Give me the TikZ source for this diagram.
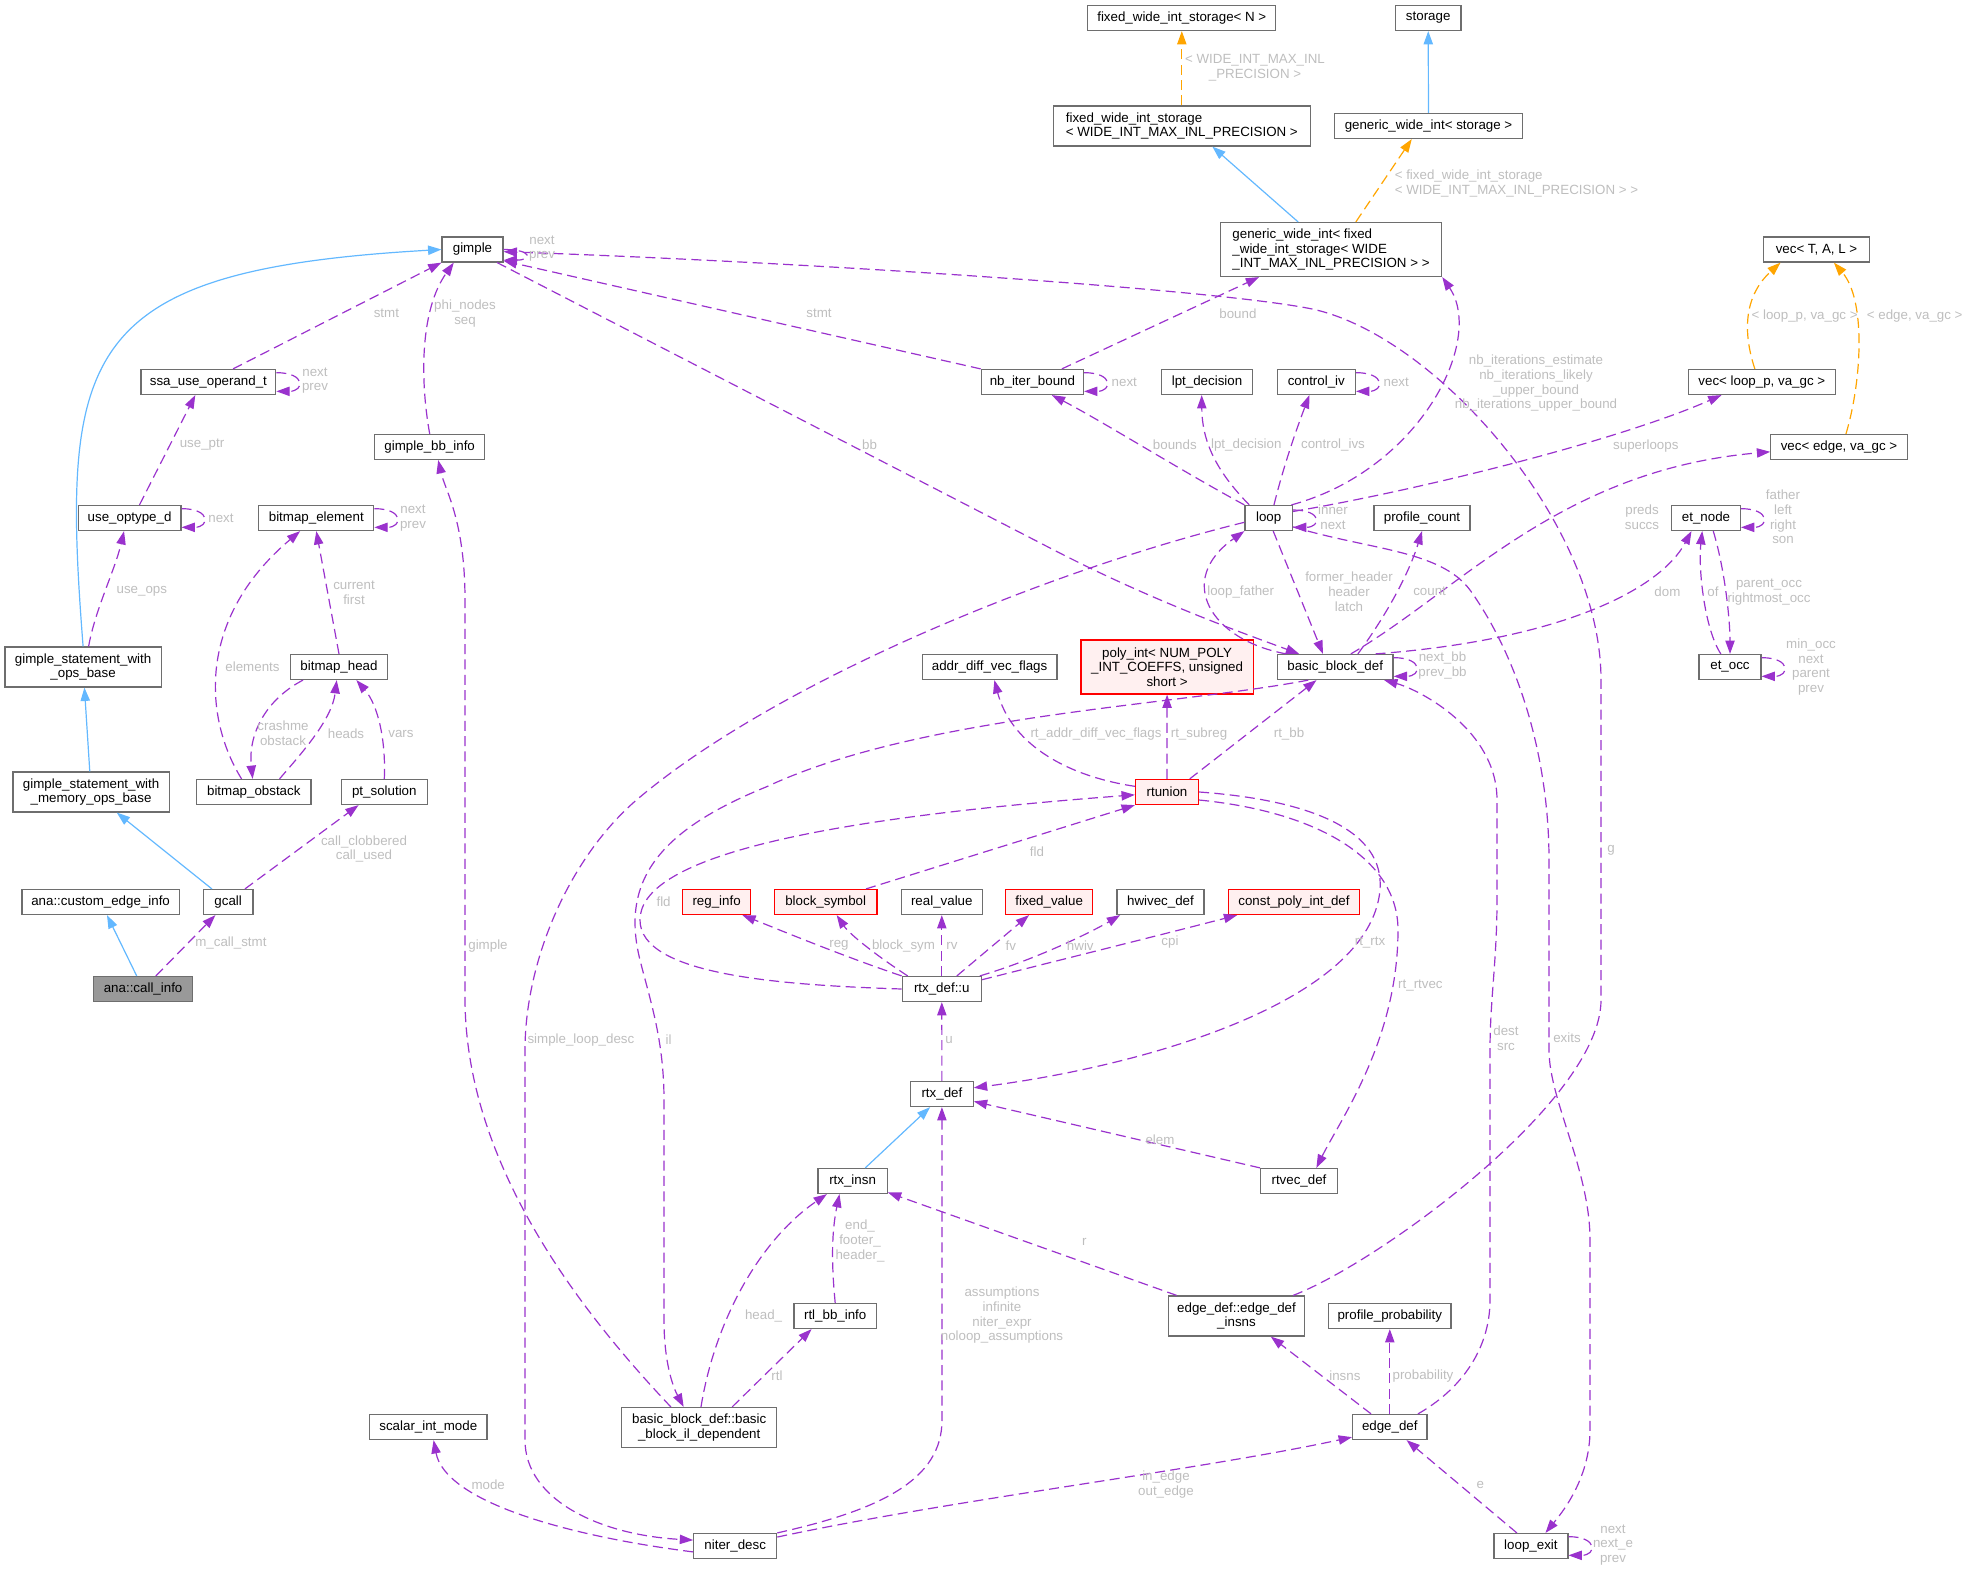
\documentclass[tikz,border=0pt]{standalone}
\usepackage{fontspec}
\setmainfont{Liberation Sans}
\usetikzlibrary{arrows.meta}

\definecolor{edgepurple}{HTML}{9A32CD}
\definecolor{inhblue}{HTML}{63B8FF}
\definecolor{tplorange}{HTML}{FFA500}
\definecolor{lblgrey}{HTML}{BEBEBE}
\definecolor{boxgrey}{HTML}{6E6E6E}
\definecolor{redfill}{HTML}{FFF0F0}
\definecolor{focusfill}{HTML}{999999}

\tikzset{
  cls/.style={draw=boxgrey, fill=white, line width=0.9pt, inner xsep=2pt, inner ysep=1pt,
    minimum height=18.75pt, font=\fontsize{10}{11}\selectfont},
  cls2/.style={cls, minimum height=30pt, align=center},
  undoc/.style={cls, draw=red, fill=redfill},
  focus/.style={cls, fill=focusfill},
  uses/.style={draw=edgepurple, line width=0.9pt, dash pattern=on 7.5pt off 4pt,
    -{Triangle[length=10pt,width=7pt]}},
  isa/.style={draw=inhblue, line width=0.9pt, -{Triangle[length=10pt,width=7pt]}},
  tpl/.style={draw=tplorange, line width=0.9pt, dash pattern=on 7.5pt off 4pt,
    -{Triangle[length=10pt,width=7pt]}},
  lbl/.style={text=lblgrey, inner sep=0pt, align=center, font=\fontsize{10}{11}\selectfont},
}

% member pointing back to its own class
\newcommand{\ownref}[3]{\draw[uses] ([yshift=#2]#1.east) .. controls +(30,0) and +(28,0) .. ([yshift=#3]#1.east);}

\begin{document}
\begin{tikzpicture}[x=0.75pt,y=0.75pt,yscale=-1,xscale=1]
\useasboundingbox (0,0) rectangle (1967,1577);

%Classes
\node[cls, minimum width=141pt] (fwisN) at (1181.8,18) {fixed\_wide\_int\_storage< N >};
\node[cls, minimum width=49.2pt] (storage) at (1428.2,18) {storage};
\node[cls2, align=left, minimum width=192.75pt] (fwisW) at (1181.8,126) {fixed\_wide\_int\_storage\\< WIDE\_INT\_MAX\_INL\_PRECISION >};
\node[cls, minimum width=140.5pt] (gwiS) at (1428.5,126) {generic\_wide\_int< storage >};
\node[cls, minimum width=45.75pt] (gimple) at (472.5,249.5) {gimple};
\node[cls, align=left, minimum height=40.5pt, minimum width=166pt] (gwiF) at (1331,249.5) {generic\_wide\_int< fixed\\\_wide\_int\_storage< WIDE\\\_INT\_MAX\_INL\_PRECISION > >};
\node[cls, minimum width=79.2pt] (vecTAL) at (1816.5,249.5) {vec< T, A, L >};
\node[cls, minimum width=101pt] (ssa) at (208.4,382) {ssa\_use\_operand\_t};
\node[cls, minimum width=76.7pt] (nbib) at (1032.4,382) {nb\_iter\_bound};
\node[cls, minimum width=68.5pt] (lpt) at (1207,382) {lpt\_decision};
\node[cls, minimum width=58.7pt] (civ) at (1316.3,382) {control\_iv};
\node[cls, minimum width=110.2pt] (vecLoop) at (1761.8,382) {vec< loop\_p, va\_gc >};
\node[cls, minimum width=82.5pt] (gbbi) at (429.7,447) {gimple\_bb\_info};
\node[cls, minimum width=102.3pt] (vecEdge) at (1839,447) {vec< edge, va\_gc >};
\node[cls, minimum width=77pt] (uopt) at (129.6,518) {use\_optype\_d};
\node[cls, minimum width=86.25pt] (bmel) at (316.3,518) {bitmap\_element};
\node[cls, minimum width=35.6pt] (loop) at (1268.7,518) {loop};
\node[cls, minimum width=72pt] (pcount) at (1422,518) {profile\_count};
\node[cls, minimum width=51.5pt] (etnode) at (1706,518) {et\_node};
\node[cls2, minimum width=117.2pt] (opsb) at (83.1,667) {gimple\_statement\_with\\\_ops\_base};
\node[cls, minimum width=72.3pt] (bmhead) at (339,667) {bitmap\_head};
\node[cls, minimum width=101pt] (advf) at (989.6,667) {addr\_diff\_vec\_flags};
\node[undoc, align=center, minimum height=40.5pt, minimum width=129.2pt] (polyint) at (1167.1,667) {poly\_int< NUM\_POLY\\\_INT\_COEFFS, unsigned\\short >};
\node[cls, minimum width=86.8pt] (bbd) at (1335.2,667) {basic\_block\_def};
\node[cls, minimum width=46.4pt] (etocc) at (1730,667) {et\_occ};
\node[cls2, minimum width=117.2pt] (memb) at (91.1,792) {gimple\_statement\_with\\\_memory\_ops\_base};
\node[cls, minimum width=85.9pt] (bmobs) at (253.8,792) {bitmap\_obstack};
\node[cls, minimum width=64.4pt] (ptsol) at (384.3,792) {pt\_solution};
\node[undoc, minimum width=47.3pt] (rtunion) at (1167,792) {rtunion};
\node[cls, minimum width=118pt] (cei) at (100.6,902) {ana::custom\_edge\_info};
\node[cls, minimum width=37.3pt] (gcall) at (228.2,902) {gcall};
\node[undoc, minimum width=51.2pt] (reginfo) at (716.6,902) {reg\_info};
\node[undoc, minimum width=77pt] (blocksym) at (825.7,902) {block\_symbol};
\node[cls, minimum width=60.6pt] (realv) at (941.8,902) {real\_value};
\node[undoc, minimum width=65pt] (fixedv) at (1049.2,902) {fixed\_value};
\node[cls, minimum width=65.3pt] (hwivec) at (1160.5,902) {hwivec\_def};
\node[undoc, minimum width=98.3pt] (cpi) at (1294,902) {const\_poly\_int\_def};
\node[focus, minimum width=74.5pt] (callinfo) at (143.1,989) {ana::call\_info};
\node[cls, minimum width=59.4pt] (rtxu) at (941.8,989) {rtx\_def::u};
\node[cls, minimum width=47pt] (rtxdef) at (941.9,1094) {rtx\_def};
\node[cls, minimum width=52pt] (rtxinsn) at (852.6,1181) {rtx\_insn};
\node[cls, minimum width=57.5pt] (rtvec) at (1299,1181) {rtvec\_def};
\node[cls, minimum width=61.9pt] (rtlbb) at (835.2,1316) {rtl\_bb\_info};
\node[cls2, minimum width=102pt] (edi) at (1236.5,1316) {edge\_def::edge\_def\\\_insns};
\node[cls, minimum width=91.9pt] (pprob) at (1389.8,1316) {profile\_probability};
\node[cls, minimum width=88pt] (scalar) at (428.3,1427) {scalar\_int\_mode};
\node[cls2, minimum width=116.25pt] (bbil) at (699.2,1427.5) {basic\_block\_def::basic\\\_block\_il\_dependent};
\node[cls, minimum width=55.9pt] (edgedef) at (1389.8,1427) {edge\_def};
\node[cls, minimum width=62.2pt] (niter) at (735.2,1546) {niter\_desc};
\node[cls, minimum width=55.5pt] (loopexit) at (1530.9,1546) {loop\_exit};

%Inheritance
\draw[isa] (opsb.north) .. controls (60,350) and (80,270) .. (gimple.west);
\draw[isa] (memb) -- (opsb);
\draw[isa] (gcall) -- (memb);
\draw[isa] (callinfo) -- (cei);
\draw[isa] (gwiS) -- (storage);
\draw[isa] (gwiF.140) -- (fwisW.-34);
\draw[isa] (rtxinsn.46) -- (rtxdef.-132);
\draw[tpl] (fwisW) -- (fwisN);
\draw[tpl] (gwiF.48) -- (gwiS.-142);
\draw[tpl] (vecLoop.118) .. controls (1742,330) and (1745,295) .. (vecTAL.-160);
\draw[tpl] (vecEdge.62) .. controls (1862,380) and (1866,300) .. (vecTAL.-37);

%Members
\draw[uses] (callinfo) -- (gcall);
\draw[uses] (gcall.38) -- (ptsol.-153);
\draw[uses] (ptsol.north) .. controls (386,740) and (378,705) .. (bmhead.-37);
\draw[uses] (bmobs.27) .. controls (300,755) and (332,720) .. (bmhead.-100);
\draw[uses] (bmhead.-160) .. controls (265,700) and (248,735) .. (bmobs.95);
\draw[uses] (bmobs.133) .. controls (205,720) and (195,620) .. (bmel.-141);
\draw[uses] (bmhead.north) -- (bmel.south);
\draw[uses] (opsb.75) .. controls (95,610) and (115,570) .. (uopt.-113);
\draw[uses] (uopt.53) -- (ssa.-135);
\draw[uses] (ssa.28) -- (gimple.south west);
\draw[uses] (gbbi.north) .. controls (420,380) and (420,310) .. (gimple.-145);
\draw[uses] (nbib.north west) -- (gimple.-20);
\draw[uses] (gimple.-28) -- (1050,548) .. controls (1150,600) and (1240,632) .. (bbd.160);
\draw[uses] (edi.20) .. controls (1380,1262) and (1601,1100) .. (1601,1000) -- (1601,680)
  .. controls (1601,520) and (1430,330) .. (1307,308) .. controls (1200,288) and (800,262) .. (gimple.-4);
\draw[uses] (nbib.24) -- (gwiF.-159);
\draw[uses] (loop.north west) .. controls (1180,470) and (1100,420) .. (nbib.-34);
\draw[uses] (loop.146) .. controls (1215,470) and (1202,440) .. (lpt.-112);
\draw[uses] (loop.68) .. controls (1285,460) and (1300,420) .. (civ.-118);
\draw[uses] (loop.30) .. controls (1420,470) and (1485,340) .. (gwiF.south east);
\draw[uses] (loop.15) .. controls (1420,490) and (1620,440) .. (vecLoop.-162);
\draw[uses] (bbd.40) .. controls (1460,590) and (1560,470) .. (vecEdge.-176);
\draw[uses] (bbd.18) .. controls (1560,640) and (1660,590) .. (etnode.-138);
\draw[uses] (etocc.125) .. controls (1705,630) and (1698,570) .. (etnode.-106);
\draw[uses] (etnode.-61) .. controls (1725,570) and (1730,620) .. (etocc.north);
\draw[uses] (bbd.30) .. controls (1390,610) and (1410,570) .. (pcount.south);
\draw[uses] (loop.-71) -- (bbd.133);
\draw[uses] (bbd.165) .. controls (1210,640) and (1175,580) .. (loop.south west);
\draw[uses] (loop.-170) .. controls (1050,570) and (780,680) .. (640,797) .. controls (570,855) and (525,960) .. (525,1050)
  -- (525,1440) .. controls (525,1500) and (600,1535) .. (niter.172);
\draw[uses] (bbil.144) .. controls (560,1290) and (466,1150) .. (465,1000) -- (465,600) .. controls (465,520) and (445,490) .. (gbbi.-57);
\draw[uses] (bbd.-154) .. controls (1180,705) and (920,715) .. (766.7,786.7) .. controls (660,830) and (620,880) .. (640,960)
  .. controls (650,1000) and (664,1040) .. (664,1100) -- (664,1320) .. controls (664,1360) and (672,1385) .. (bbil.127);
\draw[uses] (rtxu.west) .. controls (780,985) and (640,975) .. (640,920) .. controls (640,860) and (800,820) .. (rtunion.-175);
\draw[uses] (blocksym.18) -- (rtunion.south west);
\draw[uses] (rtunion.170) .. controls (1060,775) and (1010,740) .. (advf.-70);
\draw[uses] (rtunion) -- (polyint);
\draw[uses] (rtunion.30) -- (bbd.-145);
\draw[uses] (rtunion.east) .. controls (1310,800) and (1385,830) .. (1380,890) .. controls (1370,1000) and (1150,1065) .. (rtxdef.11);
\draw[uses] (rtunion.-14) .. controls (1320,812) and (1398,860) .. (1398,930) .. controls (1398,1040) and (1340,1120) .. (rtvec.37);
\draw[uses] (rtxu.north west) .. controls (840,955) and (780,930) .. (reginfo.-27);
\draw[uses] (rtxu.159) .. controls (880,958) and (850,935) .. (blocksym.-50);
\draw[uses] (rtxu) -- (realv);
\draw[uses] (rtxu.41) -- (fixedv.-147);
\draw[uses] (rtxu.19) .. controls (1040,958) and (1095,930) .. (hwivec.-162);
\draw[uses] (rtxu.13) .. controls (1080,955) and (1180,930) .. (cpi.-167);
\draw[uses] (rtxdef) -- (rtxu);
\draw[uses] (rtvec.north west) -- (rtxdef.-13);
\draw[uses] (bbil.85) .. controls (715,1320) and (760,1240) .. (rtxinsn.-153);
\draw[uses] (rtlbb.north) .. controls (831,1260) and (832,1230) .. (rtxinsn.-135);
\draw[uses] (bbil.32) -- (rtlbb.-151);
\draw[uses] (edi.161) -- (rtxinsn.-18);
\draw[uses] (niter.north east) .. controls (880,1510) and (942,1480) .. (942,1420) -- (rtxdef.south);
\draw[uses] (niter.12) .. controls (950,1500) and (1200,1470) .. (edgedef.-165);
\draw[uses] (niter.-172) .. controls (560,1535) and (445,1500) .. (scalar.-68);
\draw[uses] (edgedef) -- (pprob);
\draw[uses] (edgedef.145) -- (edi.-31);
\draw[uses] (edgedef.25) .. controls (1460,1390) and (1490,1350) .. (1490,1300) -- (1490,1050) .. controls (1490,1000) and (1497,960) .. (1497,900)
  -- (1497,800) .. controls (1497,730) and (1420,690) .. (bbd.-15);
\draw[uses] (loop.-20) .. controls (1370,550) and (1440,550) .. (1470,590) .. controls (1520,660) and (1549,760) .. (1549,860)
  -- (1549,1050) .. controls (1549,1100) and (1590,1170) .. (1590,1240) -- (1590,1430) .. controls (1590,1480) and (1560,1515) .. (loopexit.42);
\draw[uses] (loopexit.137) -- (edgedef.-38);

%Self references
\ownref{gimple}{0pt}{8pt}
\ownref{ssa}{-7pt}{7pt}
\ownref{uopt}{-7pt}{7pt}
\ownref{bmel}{-7pt}{7pt}
\ownref{nbib}{-7pt}{7pt}
\ownref{civ}{-7pt}{7pt}
\ownref{loop}{-6pt}{7pt}
\ownref{etnode}{-7pt}{7pt}
\ownref{etocc}{-7pt}{7pt}
\ownref{bbd}{-7pt}{7pt}
\ownref{loopexit}{-7pt}{7pt}

% Text Node
\node[lbl] (tFwis) at (1255,67.5) {< WIDE\_INT\_MAX\_INL\\\_PRECISION >};
\node[lbl, anchor=west, align=left] (tGwis) at (1394.5,183.3) {< fixed\_wide\_int\_storage\\< WIDE\_INT\_MAX\_INL\_PRECISION > >};
\node[lbl] (tVloop) at (1804.6,316) {< loop\_p, va\_gc >};
\node[lbl] (tVedge) at (1914.7,316) {< edge, va\_gc >};
\node[lbl] (tMcall) at (230.9,943.3) {m\_call\_stmt};
\node[lbl] (tClob) at (364,849) {call\_clobbered\\call\_used};
\node[lbl] (tVars) at (401,734) {vars};
\node[lbl] (tHeads) at (346,734) {heads};
\node[lbl] (tCrash) at (283,733.5) {crashme\\obstack};
\node[lbl] (tElems) at (252.5,666.7) {elements};
\node[lbl] (tCur) at (354,592.5) {current\\first};
\node[lbl] (tUseops) at (141.8,591.7) {use\_ops};
\node[lbl] (tUseptr) at (202,445) {use\_ptr};
\node[lbl] (tStmtA) at (386.4,313.3) {stmt};
\node[lbl] (tSsaself) at (315,380.5) {next\\prev};
\node[lbl] (tGimself) at (542,248.5) {next\\prev};
\node[lbl] (tPhi) at (465,313.5) {phi\_nodes\\seq};
\node[lbl] (tStmtB) at (819,313.3) {stmt};
\node[lbl] (tG) at (1611,850) {g};
\node[lbl] (tNbself) at (1124.3,382) {next};
\node[lbl] (tBound) at (1237.9,313.3) {bound};
\node[lbl] (tBounds) at (1174.8,445) {bounds};
\node[lbl] (tLpt) at (1246.3,445) {lpt\_decision};
\node[lbl] (tCivs) at (1333,445) {control\_ivs};
\node[lbl] (tCivself) at (1396.2,382) {next};
\node[lbl] (tNbit) at (1536,383.5) {nb\_iterations\_estimate\\nb\_iterations\_likely\\\_upper\_bound\\nb\_iterations\_upper\_bound};
\node[lbl] (tSuper) at (1645.8,446) {superloops};
\node[lbl] (tPreds) at (1642,517) {preds\\succs};
\node[lbl] (tDom) at (1667.4,591.7) {dom};
\node[lbl] (tOf) at (1712.9,591.7) {of};
\node[lbl] (tParocc) at (1769,592) {parent\_occ\\rightmost\_occ};
\node[lbl] (tEtnself) at (1783,517) {father\\left\\right\\son};
\node[lbl] (tEtoself) at (1811,667) {min\_occ\\next\\parent\\prev};
\node[lbl] (tCount) at (1429.6,591.7) {count};
\node[lbl] (tFormer) at (1349,591.7) {former\_header\\header\\latch};
\node[lbl] (tLfather) at (1240.7,591.7) {loop\_father};
\node[lbl] (tBb) at (869.6,445) {bb};
\node[lbl] (tSld) at (580.9,1040) {simple\_loop\_desc};
\node[lbl] (tGimple) at (488,946) {gimple};
\node[lbl] (tIl) at (668.6,1040) {il};
\node[lbl] (tFldA) at (663.6,902) {fld};
\node[lbl] (tFldB) at (1036.9,851.7) {fld};
\node[lbl] (tRtaddr) at (1096,734) {rt\_addr\_diff\_vec\_flags};
\node[lbl] (tRtsub) at (1199,734) {rt\_subreg};
\node[lbl] (tRtbb) at (1289,734) {rt\_bb};
\node[lbl] (tRtrtx) at (1370,942.3) {rt\_rtx};
\node[lbl] (tRtvec) at (1420.4,985.7) {rt\_rtvec};
\node[lbl] (tReg) at (839,945.7) {reg};
\node[lbl] (tBsym) at (903.5,945.7) {block\_sym};
\node[lbl] (tRv) at (951.9,945.7) {rv};
\node[lbl] (tFv) at (1010.8,945.7) {fv};
\node[lbl] (tHwiv) at (1080.3,945.7) {hwiv};
\node[lbl] (tCpi) at (1170,942.3) {cpi};
\node[lbl] (tU) at (949,1040) {u};
\node[lbl] (tElem) at (1160,1139.3) {elem};
\node[lbl] (tHead) at (763.6,1315.7) {head\_};
\node[lbl] (tEnd) at (860,1241) {end\_\\footer\_\\header\_};
\node[lbl] (tRtl) at (777,1376) {rtl};
\node[lbl] (tR) at (1084.3,1241.7) {r};
\node[lbl] (tAssum) at (1002,1315.3) {assumptions\\infinite\\niter\_expr\\noloop\_assumptions};
\node[lbl] (tInout) at (1166,1484.8) {in\_edge\\out\_edge};
\node[lbl] (tMode) at (488.2,1485) {mode};
\node[lbl] (tProb) at (1423,1376) {probability};
\node[lbl] (tInsns) at (1344.9,1376) {insns};
\node[lbl] (tDest) at (1506,1038) {dest\\src};
\node[lbl] (tExits) at (1567,1037.3) {exits};
\node[lbl] (tE) at (1480.4,1485) {e};
\node[lbl] (tLexself) at (1613,1545) {next\\next\_e\\prev};
\node[lbl] (tBbdself) at (1442.5,665.8) {next\_bb\\prev\_bb};
\node[lbl] (tUoptself) at (221,518) {next};
\node[lbl] (tBmelself) at (413,518) {next\\prev};
\node[lbl] (tLoopself) at (1333,517) {inner\\next};

\end{tikzpicture}
\end{document}
